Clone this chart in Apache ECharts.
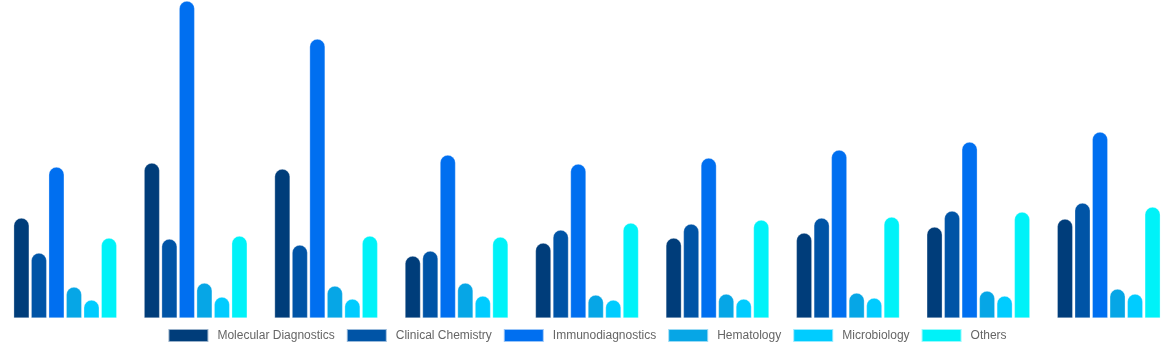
<!DOCTYPE html>
<html>
<head>
<meta charset="utf-8">
<script src="https://cdn.jsdelivr.net/npm/echarts@6/dist/echarts.min.js"></script>
<style>html,body{margin:0;padding:0;background:#fff;}#c{width:1174px;height:350px;}</style>
</head>
<body>
<div id="c"></div>
<script>
const categories = ['2022','2023','2024','2025','2026','2027','2028','2029','2030'];
const seriesNames = ['Molecular Diagnostics','Clinical Chemistry','Immunodiagnostics','Hematology','Microbiology','Others'];
const molecular = [10.0, 15.5, 14.9, 6.2, 7.5, 8.0, 8.5, 9.1, 9.9];
const clinical = [6.5, 7.9, 7.3, 6.7, 8.8, 9.4, 10.0, 10.7, 11.5];
const immuno = [15.1, 31.7, 27.9, 16.3, 15.4, 16.0, 16.8, 17.6, 18.6];
const hematology = [3.1, 3.5, 3.2, 3.5, 2.3, 2.4, 2.5, 2.7, 2.9];
const microbiology = [1.8, 2.1, 1.9, 2.2, 1.8, 1.9, 2.0, 2.2, 2.4];
const others = [8.0, 8.2, 8.2, 8.1, 9.5, 9.8, 10.1, 10.6, 11.1];
const colors = ['#003d7a','#0054a6','#006ff0','#06a6e6','#00ccff','#00f2f8'];
const allData = [molecular, clinical, immuno, hematology, microbiology, others];

const chart = echarts.init(document.getElementById('c'));
chart.setOption({
  animation: false,
  color: colors,
  grid: {left: 0, right: 0, top: 0, bottom: 32},
  legend: {
    bottom: 2, left: 'center',
    itemWidth: 40, itemHeight: 13, itemGap: 11,
    icon: 'rect',
    textStyle: {color: '#666', fontSize: 12, fontFamily: 'Liberation Sans, Arial, sans-serif', padding: [0, 0, 0, 4]},
    data: seriesNames
  },
  xAxis: {type: 'category', data: categories, show: false},
  yAxis: {type: 'value', min: 0, max: 31.8, show: false, splitLine: {show: false}},
  series: seriesNames.map((n, i) => ({
    name: n, type: 'bar', data: allData[i],
    barWidth: 15.5, barGap: '13%',
    itemStyle: {borderRadius: [8, 8, 0, 0], borderColor: 'rgba(255,255,255,0.6)', borderWidth: 0.5}
  }))
});
</script>
</body>
</html>
